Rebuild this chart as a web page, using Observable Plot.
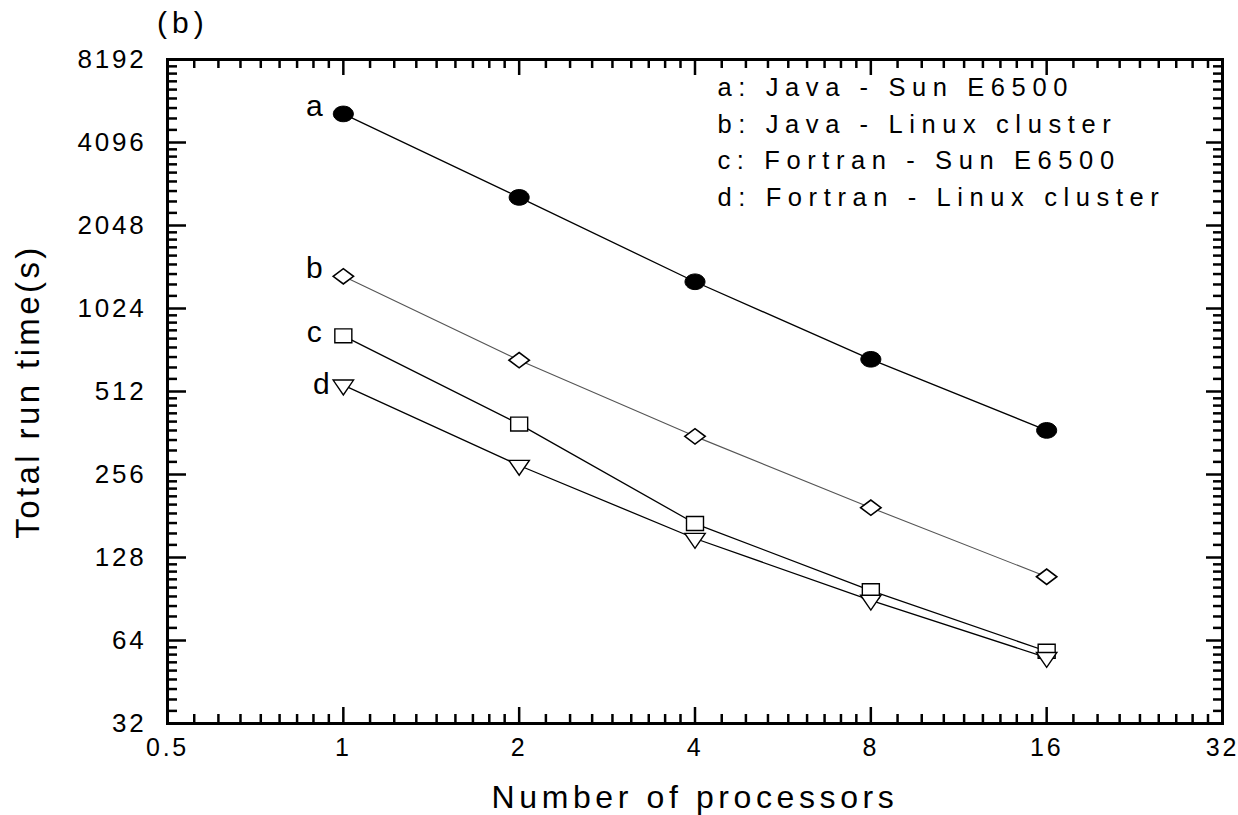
<!DOCTYPE html>
<html>
<head>
<meta charset="utf-8">
<script src="https://cdn.jsdelivr.net/npm/d3@7"></script>
<script src="https://cdn.jsdelivr.net/npm/@observablehq/plot@0.6"></script>
<style>
  body { margin: 0; background: #fff; }
  #chart svg { display: block; }
</style>
</head>
<body>
<div id="chart"></div>
<script>
// ---- data ----
const processors = [1, 2, 4, 8, 16];
const seriesKeys = ["a", "b", "c", "d"];
const seriesNames = [
  "a: Java - Sun E6500",
  "b: Java - Linux cluster",
  "c: Fortran - Sun E6500",
  "d: Fortran - Linux cluster"
];
const javaSun = [5200, 2590, 1280, 670, 370];
const javaLinux = [1340, 665, 352, 194, 109];
const fortranSun = [815, 390, 170, 97, 58.5];
const fortranLinux = [540, 276, 150, 89.5, 55.5];
const xTicks = [0.5, 1, 2, 4, 8, 16, 32];
const yTicks = [32, 64, 128, 256, 512, 1024, 2048, 4096, 8192];
const xLabel = "Number of processors";
const yLabel = "Total run time(s)";
const panelLabel = "(b)";

// ---- layout ----
const W = 1238, H = 815;
const mL = 167, mR = 16, mT = 59, mB = 92;
const PW = W - mL - mR, PH = H - mT - mB;
const majorLen = 16, minorLen = 9;

// minor ticks (8 per octave, linear within the octave)
function minors(ticks) {
  const out = [];
  for (let i = 0; i < ticks.length - 1; i++)
    for (let k = 1; k <= 8; k++) out.push(ticks[i] * (1 + k / 9));
  return out;
}
const xMinor = minors(xTicks);
const yMinor = minors(yTicks);

const toRows = (vals, key) => processors.map((p, i) => ({x: p, y: vals[i], key}));
const A = toRows(javaSun, "a"), B = toRows(javaLinux, "b"), C = toRows(fortranSun, "c"), D = toRows(fortranLinux, "d");

// ---- custom symbols ----
const ellipse = {draw(ctx, size) {
  const r = Math.sqrt(size / Math.PI); const rx = r * 1.18, ry = r * 0.92, k = 0.5523;
  ctx.moveTo(rx, 0);
  ctx.bezierCurveTo(rx, ry * k, rx * k, ry, 0, ry);
  ctx.bezierCurveTo(-rx * k, ry, -rx, ry * k, -rx, 0);
  ctx.bezierCurveTo(-rx, -ry * k, -rx * k, -ry, 0, -ry);
  ctx.bezierCurveTo(rx * k, -ry, rx, -ry * k, rx, 0);
  ctx.closePath();
}};
const wideDiamond = {draw(ctx, size) {
  const r = Math.sqrt(size / Math.PI);
  ctx.moveTo(-r * 1.2, 0); ctx.lineTo(0, -r * 0.9); ctx.lineTo(r * 1.2, 0); ctx.lineTo(0, r * 0.9); ctx.closePath();
}};
const rectSym = {draw(ctx, size) {
  const r = Math.sqrt(size / Math.PI);
  ctx.moveTo(-r, -r * 0.82); ctx.lineTo(r, -r * 0.82); ctx.lineTo(r, r * 0.82); ctx.lineTo(-r, r * 0.82); ctx.closePath();
}};
const triDown = {draw(ctx, size) {
  const r = Math.sqrt(size / Math.PI);
  ctx.moveTo(-r * 1.2, -r * 0.6); ctx.lineTo(r * 1.2, -r * 0.6); ctx.lineTo(0, r * 1.15); ctx.closePath();
}};

const tickW = 2.5;
const chart = Plot.plot({
  width: W, height: H,
  marginLeft: mL, marginRight: mR, marginTop: mT, marginBottom: mB,
  x: {type: "log", base: 2, domain: [0.5, 32]},
  y: {type: "log", base: 2, domain: [32, 8192]},
  style: {fontFamily: "'Liberation Sans', Arial, sans-serif", letterSpacing: "2.8px", color: "#000", background: "#fff"},
  marks: [
    // inward ticks on all four sides
    Plot.tickX(xTicks, {x: d => d, insetTop: PH - majorLen, stroke: "#000", strokeWidth: tickW}),
    Plot.tickX(xTicks, {x: d => d, insetBottom: PH - majorLen, stroke: "#000", strokeWidth: tickW}),
    Plot.tickX(xMinor, {x: d => d, insetTop: PH - minorLen, stroke: "#000", strokeWidth: tickW}),
    Plot.tickX(xMinor, {x: d => d, insetBottom: PH - minorLen, stroke: "#000", strokeWidth: tickW}),
    Plot.tickY(yTicks, {y: d => d, insetRight: PW - majorLen - 3, stroke: "#000", strokeWidth: tickW}),
    Plot.tickY(yTicks, {y: d => d, insetLeft: PW - majorLen, stroke: "#000", strokeWidth: tickW}),
    Plot.tickY(yMinor, {y: d => d, insetRight: PW - minorLen - 1, stroke: "#000", strokeWidth: tickW}),
    Plot.tickY(yMinor, {y: d => d, insetLeft: PW - minorLen, stroke: "#000", strokeWidth: tickW}),
    Plot.frame({stroke: "#000", strokeWidth: 3}),
    // tick labels
    Plot.axisX(xTicks, {tickSize: 0, tickPadding: 15, fontSize: 25, tickFormat: d => String(d), label: null}),
    Plot.axisY(yTicks, {tickSize: 0, tickPadding: 21, fontSize: 26, tickFormat: d => String(d), label: null}),
    // lines
    Plot.line(A, {x: "x", y: "y", stroke: "#000", strokeWidth: 1.3}),
    Plot.line(B, {x: "x", y: "y", stroke: "#555", strokeWidth: 1.1}),
    Plot.line(C, {x: "x", y: "y", stroke: "#000", strokeWidth: 1.3}),
    Plot.line(D, {x: "x", y: "y", stroke: "#000", strokeWidth: 1.3}),
    // markers
    Plot.dot(A, {x: "x", y: "y", symbol: () => ellipse, r: 8.5, fill: "#000", stroke: "#000", strokeWidth: 1}),
    Plot.dot(B, {x: "x", y: "y", symbol: () => wideDiamond, r: 8.5, fill: "#fff", stroke: "#000", strokeWidth: 1.6}),
    Plot.dot(C, {x: "x", y: "y", symbol: () => rectSym, r: 8.5, fill: "#fff", stroke: "#000", strokeWidth: 1.4}),
    Plot.dot(D, {x: "x", y: "y", symbol: () => triDown, r: 8.5, fill: "#fff", stroke: "#000", strokeWidth: 1.4}),
    // series letters
    Plot.text([A[0]], {x: "x", y: "y", text: () => seriesKeys[0], dx: -29, dy: -8, fontSize: 30, textAnchor: "middle"}),
    Plot.text([B[0]], {x: "x", y: "y", text: () => seriesKeys[1], dx: -29, dy: -8, fontSize: 30, textAnchor: "middle"}),
    Plot.text([C[0]], {x: "x", y: "y", text: () => seriesKeys[2], dx: -29, dy: -3, fontSize: 30, textAnchor: "middle"}),
    Plot.text([D[0]], {x: "x", y: "y", text: () => seriesKeys[3], dx: -22, dy: -1, fontSize: 30, textAnchor: "middle"}),
    // legend text
    Plot.text([seriesNames.join("\n")], {frameAnchor: "top-left", text: d => d, dx: 550, dy: 80, textAnchor: "start", lineAnchor: "middle", lineHeight: 1.43, fontSize: 25.5}),
    // axis titles
    Plot.text([xLabel], {frameAnchor: "bottom", text: d => d, dy: 74, fontSize: 32, lineAnchor: "middle", textAnchor: "middle"}),
    Plot.text([yLabel], {frameAnchor: "left", text: d => d, dx: -139, rotate: -90, fontSize: 33, lineAnchor: "middle", textAnchor: "middle"}),
    Plot.text([panelLabel], {frameAnchor: "top-left", text: d => d, dx: -10.5, dy: -36.5, fontSize: 30, textAnchor: "start", lineAnchor: "middle"})
  ]
});
// per-text letter spacing
const spacing = new Map([[xLabel, "4.6px"], [yLabel, "3.4px"], [panelLabel, "5px"]]);
d3.select(chart).selectAll("text").each(function() {
  const t = this.textContent;
  if (spacing.has(t)) this.style.letterSpacing = spacing.get(t);
  else if (t.includes("Java")) this.style.letterSpacing = "6.6px";
  else if (seriesKeys.includes(t)) this.style.letterSpacing = "0px";
});
document.getElementById("chart").appendChild(chart);
</script>
</body>
</html>
